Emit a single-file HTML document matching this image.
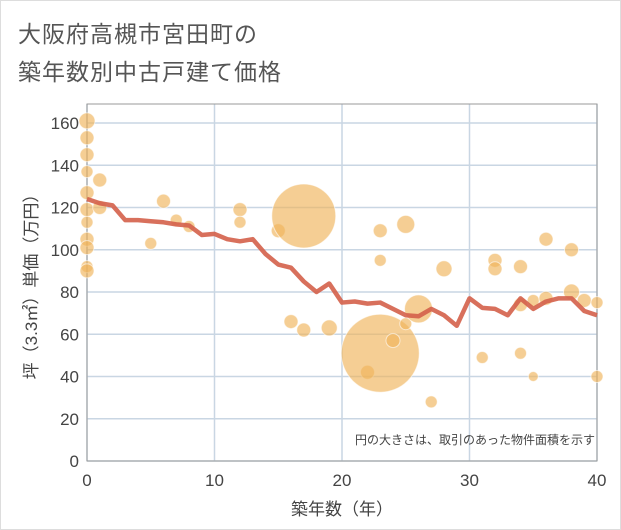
<!DOCTYPE html>
<html><head><meta charset="utf-8"><style>
body{margin:0;background:#fff;}
#wrap{position:relative;width:619px;height:528px;border:1px solid #ddd;background:#fff;overflow:hidden;}
.t{position:absolute;left:17px;font-family:"Liberation Sans","Noto Sans CJK JP",sans-serif;font-size:23px;color:#555;letter-spacing:1px;}
</style></head><body>
<div id="wrap">
<div class="t" style="top:14px">大阪府高槻市宮田町の</div>
<div class="t" style="top:52px">築年数別中古戸建て価格</div>
<svg id="chart" width="621" height="530" style="position:absolute;left:0;top:0"></svg>
</div>
<script>
const lineYears=[0,1,2,3,4,5,6,7,8,9,10,11,12,13,14,15,16,17,18,19,20,21,22,23,24,25,26,27,28,29,30,31,32,33,34,35,36,37,38,39,40];
const lineValues=[124,122,121,114,114,113.5,113,112,111.5,107,107.5,105,104,105,98,93,91.5,85,80,84,75,75.5,74.5,75,72,69,68.5,72,69,64,77,72.5,72,69,77,72,75.5,77,77,71,69];
const bubbleYears=[0,0,0,0,0,0,0,0,0,0,0,1,1,5,6,7,8,12,12,15,16,17,17,19,22,23,23,23,24,25,25,26,27,28,31,32,32,34,34,34,35,35,36,36,38,38,39,40,40];
const bubbleValues=[161,153,145,137,127,119,113,105,101,92,90,133,120,103,123,114,111,119,113,109,66,62,116,63,42,51,109,95,57,112,65,72,28,91,49,95,91,92,51,74,40,76,105,77,100,80,76,75,40];
const bubbleSizes=[8,7,7,6,7,7,6,7,7,6,7,7,7,6,7,6,6,7,6,7,7,7,32,8,7,39,7,6,7,9,6,14,6,8,6,7,7,7,6,7,5,6,7,7,7,8,7,6,6];
const yTicks=[0,20,40,60,80,100,120,140,160];
const xTicks=[0,10,20,30,40];
const NS="http://www.w3.org/2000/svg";
const svg=document.getElementById('chart');
const L=86,R=596,T=103,B=460;
const xs=v=>L+v*(R-L)/40;
const ys=v=>B-v*(B-122)/160;
function mk(tag,attrs,parent){const e=document.createElementNS(NS,tag);for(const k in attrs)e.setAttribute(k,attrs[k]);(parent||svg).appendChild(e);return e;}
const font='"Liberation Sans","Noto Sans CJK JP",sans-serif';
// grid
yTicks.forEach(v=>{
 const g=mk('line',{x1:L,x2:R,y1:ys(v),y2:ys(v),stroke:'#c9d6e3','stroke-width':1.5});
 
 
 const t=mk('text',{x:L-8,y:ys(v)+6,'text-anchor':'end','font-size':17,fill:'#444','font-family':font});
 t.textContent=v;
 
 
});
xTicks.forEach(v=>{
 const g=mk('line',{x1:xs(v),x2:xs(v),y1:T,y2:B,stroke:'#c9d6e3','stroke-width':1.5});
 
 
 const t=mk('text',{x:xs(v),y:B+25,'text-anchor':'middle','font-size':17,fill:'#444','font-family':font});
 t.textContent=v;
 
 
});
const frame=mk('rect',{x:L,y:T,width:R-L,height:B-T,fill:'none',stroke:'#999','stroke-width':1});


// bubbles
bubbleYears.forEach((yr,i)=>{
 const c=mk('circle',{cx:xs(yr),cy:ys(bubbleValues[i]),r:bubbleSizes[i],fill:'#f0b45a','fill-opacity':0.65,stroke:'#fff','stroke-opacity':0.6,'stroke-width':1});
 
 
});
// line
const pts=lineYears.map((yr,i)=>xs(yr)+','+ys(lineValues[i])).join(' ');
const pl=mk('polyline',{points:pts,fill:'none',stroke:'#d4614a','stroke-opacity':0.9,'stroke-width':4.5,'stroke-linejoin':'round'});


// note
const n=mk('text',{x:R-2,y:443,'text-anchor':'end','font-size':12,fill:'#444','font-family':font});
n.textContent='円の大きさは、取引のあった物件面積を示す';


const xt=mk('text',{x:(L+R)/2,y:514,'text-anchor':'middle','font-size':17,fill:'#444','font-family':font});
xt.textContent='築年数（年）';


const yt=mk('text',{x:0,y:0,'text-anchor':'middle','font-size':17,fill:'#444','font-family':font,transform:'translate(36,'+((T+B)/2)+') rotate(-90)'});
yt.textContent='坪（3.3㎡）単価（万円）';


</script>
</body></html>
